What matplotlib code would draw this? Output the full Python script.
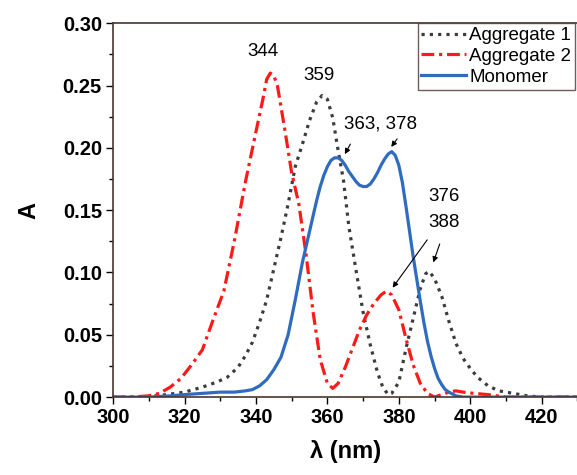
import matplotlib
matplotlib.use("Agg")
from matplotlib import pyplot as plt

plt.rcParams['font.family'] = ['Liberation Sans', 'DejaVu Sans']

# Aggregate 1 (dotted)
agg1_x = [300, 305, 310, 315, 320, 325, 329, 332, 335, 337, 339, 341, 343, 345, 347, 349, 351, 353, 355,
          357, 358.5, 360, 361.5, 363, 364.5, 366, 368, 370, 372, 374, 375.5, 377, 378, 380, 382, 384, 386,
          387.5, 388.5, 390, 392, 394, 396, 398, 400, 402, 405, 408, 412, 416, 420, 431]
agg1_y = [0, 0, 0.0005, 0.002, 0.004, 0.008, 0.012, 0.016, 0.024, 0.033, 0.044, 0.06, 0.078, 0.103, 0.128,
          0.155, 0.185, 0.203, 0.222, 0.237, 0.242, 0.239, 0.224, 0.198, 0.174, 0.137, 0.102, 0.068, 0.042,
          0.02, 0.008, 0.002, 0.003, 0.012, 0.039, 0.063, 0.087, 0.099, 0.101, 0.095, 0.081, 0.061, 0.043,
          0.031, 0.023, 0.016, 0.009, 0.005, 0.003, 0.001, 0, 0]

# Aggregate 2 (dash-dot)
agg2_x = [300, 305, 310, 313, 316, 319, 322, 325, 328, 331, 334, 337, 340, 342, 343, 344, 345, 346, 348,
          350, 352, 354, 356, 358, 360, 361.5, 363, 365, 367, 369, 371, 373, 375, 376.5, 378, 380, 382, 384,
          386, 388, 390, 392, 394, 396, 398, 401, 405, 410, 415, 431]
agg2_y = [0, 0, 0.001, 0.003, 0.008, 0.015, 0.026, 0.038, 0.062, 0.085, 0.126, 0.172, 0.213, 0.24, 0.255,
          0.26, 0.258, 0.25, 0.216, 0.18, 0.155, 0.115, 0.068, 0.03, 0.011, 0.007, 0.011, 0.024, 0.039, 0.054,
          0.066, 0.075, 0.082, 0.085, 0.082, 0.07, 0.047, 0.026, 0.011, 0.003, 0.0, 0.002, 0.004, 0.005, 0.004,
          0.003, 0.002, 0.0, 0, 0]

# Monomer (solid)
mono_x = [300, 310, 316, 320, 325, 330, 334, 337, 339, 341, 343, 345, 347, 349, 351, 353, 355, 357, 358,
          359, 360, 361, 362, 363, 364, 365, 366, 367, 368, 369, 370, 371, 372, 373, 374, 375, 376, 377, 378,
          379, 380, 381, 382, 383, 384, 385, 386, 387, 388, 389, 390, 391, 392, 393, 394, 396, 398, 431]
mono_y = [0, 0, 0.001, 0.002, 0.003, 0.004, 0.004, 0.005, 0.006, 0.009, 0.014, 0.022, 0.032, 0.05, 0.078,
          0.108, 0.133, 0.158, 0.169, 0.178, 0.185, 0.19, 0.192, 0.192, 0.19, 0.186, 0.181, 0.177, 0.173,
          0.17, 0.169, 0.169, 0.171, 0.175, 0.18, 0.186, 0.191, 0.195, 0.197, 0.194, 0.186, 0.172, 0.153,
          0.133, 0.113, 0.095, 0.077, 0.06, 0.045, 0.033, 0.023, 0.015, 0.01, 0.006, 0.004, 0.001, 0, 0]

labels = ["Aggregate 1", "Aggregate 2", "Monomer"]

fig = plt.figure(figsize=(5.77, 4.75), dpi=100)
ax = fig.add_axes([0.196, 0.164, 0.806, 0.787])

ax.plot(agg1_x, agg1_y, color='#3c3c3c', lw=2.3, linestyle=(0, (1, 1.6)), label=labels[0])
ax.plot(agg2_x, agg2_y, color='#ff1a1a', lw=2.3, linestyle=(0, (4, 1.5, 1, 1.5)), label=labels[1])
ax.plot(mono_x, mono_y, color='#2f6cc0', lw=2.3, linestyle='-', label=labels[2])

ax.set_xlim(300, 430.2)
ax.set_ylim(0, 0.30)
ax.set_xticks([300, 320, 340, 360, 380, 400, 420])
ax.set_yticks([0.0, 0.05, 0.10, 0.15, 0.20, 0.25, 0.30])
ax.set_yticklabels(["0.00", "0.05", "0.10", "0.15", "0.20", "0.25", "0.30"])
ax.set_xticks([310, 330, 350, 370, 390, 410, 430], minor=True)
ax.set_yticks([0.025, 0.075, 0.125, 0.175, 0.225, 0.275], minor=True)
ax.tick_params(which='major', direction='out', length=5, width=1, labelsize=14.5, pad=3)
ax.tick_params(which='minor', direction='out', length=3, width=1)
for lab in ax.get_xticklabels() + ax.get_yticklabels():
    lab.set_fontweight('bold')

spine_col = '#4a3530'
for s in ['left', 'bottom', 'top']:
    ax.spines[s].set_color(spine_col)
    ax.spines[s].set_linewidth(1.2)
ax.spines['right'].set_visible(False)

ax.set_xlabel("λ (nm)", fontsize=17, fontweight='bold', labelpad=9)
ax.set_ylabel("A", fontsize=17, fontweight='bold', labelpad=16)

# peak labels
fs = 13.5
ax.text(342, 0.277, "344", fontsize=fs, ha='center', va='center')
ax.text(357.5, 0.258, "359", fontsize=fs, ha='center', va='center')
ax.text(374.8, 0.219, "363, 378", fontsize=fs, ha='center', va='center')
ax.text(392.6, 0.161, "376", fontsize=fs, ha='center', va='center')
ax.text(392.6, 0.140, "388", fontsize=fs, ha='center', va='center')

arrow = dict(arrowstyle='-|>', color='black', lw=0.8, mutation_scale=8)
ax.annotate("", xy=(364.5, 0.193), xytext=(366.8, 0.205), arrowprops=arrow)
ax.annotate("", xy=(377.4, 0.199), xytext=(380.0, 0.209), arrowprops=arrow)
ax.annotate("", xy=(377.8, 0.086), xytext=(388.4, 0.128), arrowprops=arrow)
ax.annotate("", xy=(389.4, 0.106), xytext=(391.7, 0.125), arrowprops=arrow)

leg = ax.legend(loc='upper left', bbox_to_anchor=(0.655, 1.0), borderaxespad=0, fontsize=13.5,
                frameon=True, fancybox=False, handlelength=2.4, handletextpad=0.15,
                borderpad=0.2, labelspacing=0.2)
leg.get_frame().set_edgecolor(spine_col)
leg.get_frame().set_linewidth(1.0)

fig.savefig("out.png", dpi=100)
